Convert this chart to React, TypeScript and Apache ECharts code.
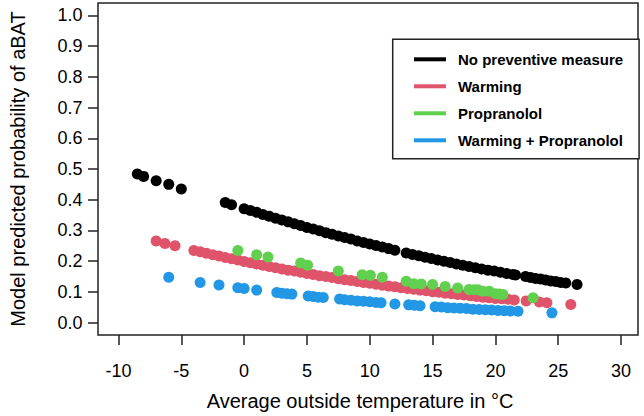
import React, { useEffect, useRef } from "react";
import * as echarts from "echarts";

const FONT = "'Liberation Sans', Arial, Helvetica, sans-serif";

// Axis ticks and visible axis ranges
const xTicks = [-10, -5, 0, 5, 10, 15, 20, 25, 30];
const yTicks = [0, 0.1, 0.2, 0.3, 0.4, 0.5, 0.6, 0.7, 0.8, 0.9, 1.0];
const xRange = [-11.63, 31.35];
const yRange = [-0.04, 1.04];

// Series names
const seriesNames = [
  "No preventive measure",
  "Warming",
  "Propranolol",
  "Warming + Propranolol",
];
const seriesColors = ["#000000", "#DF536B", "#61D04F", "#2297E6"];

// [temperature, predicted probability]
const noPreventive: [number, number][] = [
  [-8.5, 0.484], [-8.0, 0.476], [-7.0, 0.462], [-6.0, 0.45], [-5.0, 0.435],
  [-1.5, 0.391], [-1.0, 0.384],
  [0, 0.371], [0.5, 0.365], [1, 0.359], [1.5, 0.352], [2, 0.346], [2.5, 0.34],
  [3, 0.334], [3.5, 0.328], [4, 0.322], [4.5, 0.316], [5, 0.31], [5.5, 0.305],
  [6, 0.299], [6.5, 0.293], [7, 0.288], [7.5, 0.282], [8, 0.277], [8.5, 0.272],
  [9, 0.266], [9.5, 0.261], [10, 0.256], [10.5, 0.251], [11, 0.246], [11.5, 0.241],
  [12, 0.236],
  [12.9, 0.227], [13.4, 0.222], [13.9, 0.218], [14.4, 0.213], [14.9, 0.209],
  [15.4, 0.204], [15.9, 0.2], [16.4, 0.196], [16.9, 0.191], [17.4, 0.187],
  [17.9, 0.183], [18.4, 0.179], [18.9, 0.175], [19.4, 0.171], [19.9, 0.168],
  [20.4, 0.164], [20.9, 0.16], [21.4, 0.157], [21.6, 0.155],
  [22.4, 0.15], [22.8, 0.147], [23.2, 0.144], [23.6, 0.142], [24.0, 0.139],
  [24.4, 0.136], [24.8, 0.134], [25.2, 0.131], [25.6, 0.129],
  [26.5, 0.124],
];

const warming: [number, number][] = [
  [-7.0, 0.266], [-6.3, 0.258], [-5.5, 0.25],
  [-4.0, 0.235], [-3.5, 0.231], [-3.0, 0.226], [-2.5, 0.221], [-2.0, 0.217],
  [-1.5, 0.212], [-1.0, 0.208], [-0.5, 0.204], [0, 0.199], [0.5, 0.195],
  [1, 0.191], [1.5, 0.187], [2, 0.183], [2.5, 0.179], [3, 0.175], [3.5, 0.171],
  [4, 0.168], [4.5, 0.164], [5, 0.16], [5.5, 0.157], [6, 0.153], [6.5, 0.15],
  [7, 0.147], [7.5, 0.143], [8, 0.14], [8.5, 0.137], [9, 0.134], [9.5, 0.131],
  [10, 0.128], [10.5, 0.125], [11, 0.122], [11.5, 0.119], [12, 0.117],
  [12.5, 0.114], [13, 0.111], [13.5, 0.109], [14, 0.106], [14.5, 0.104],
  [15, 0.101], [15.5, 0.099], [16, 0.096], [16.5, 0.094], [17, 0.092],
  [17.5, 0.09], [18, 0.088], [18.5, 0.085], [19, 0.083], [19.5, 0.081],
  [20, 0.079], [20.5, 0.078], [21, 0.076], [21.5, 0.074],
  [22.45, 0.071], [23.5, 0.067], [24.1, 0.065], [26.0, 0.059],
];

const propranolol: [number, number][] = [
  [-0.5, 0.235], [1.0, 0.221], [1.9, 0.214], [4.5, 0.194], [5.05, 0.187],
  [7.5, 0.168], [9.4, 0.156], [10.05, 0.154], [11.0, 0.148], [12.9, 0.135],
  [13.5, 0.127], [14.1, 0.126], [15.0, 0.124], [16.0, 0.118], [17.0, 0.113],
  [17.9, 0.108], [18.3, 0.107], [18.6, 0.107], [19.0, 0.102], [19.5, 0.102],
  [20.0, 0.094], [20.3, 0.093], [20.6, 0.092], [23.0, 0.081],
];

const warmingPropranolol: [number, number][] = [
  [-6.0, 0.148], [-3.5, 0.131], [-2.0, 0.123], [-0.5, 0.114], [0.0, 0.111],
  [1.0, 0.106],
  [2.6, 0.098], [3.0, 0.096], [3.4, 0.094], [3.8, 0.093],
  [5.1, 0.087], [5.5, 0.085], [5.9, 0.083], [6.3, 0.082],
  [7.6, 0.077], [8.0, 0.075], [8.5, 0.073], [9.0, 0.071], [9.5, 0.07],
  [10.0, 0.068], [10.5, 0.066], [10.9, 0.065],
  [12.0, 0.061],
  [13.1, 0.058], [13.55, 0.057], [14.0, 0.055],
  [15.2, 0.052], [15.7, 0.051], [16.2, 0.049], [16.7, 0.048], [17.2, 0.047],
  [17.7, 0.046], [18.2, 0.044], [18.7, 0.043], [19.2, 0.042], [19.7, 0.041],
  [20.2, 0.04], [20.7, 0.039], [21.2, 0.038], [21.8, 0.037],
  [24.5, 0.032],
];

const seriesData = [noPreventive, warming, propranolol, warmingPropranolol];

export default function App() {
  const ref = useRef<HTMLDivElement>(null);

  useEffect(() => {
    document.body.style.margin = "0";
    if (!ref.current) return;
    const chart = echarts.init(ref.current, null, { renderer: "svg" });

    const axisColor = "#222";

    chart.setOption({
      animation: false,
      backgroundColor: "#ffffff",
      textStyle: { fontFamily: FONT },
      grid: {
        left: 85,
        right: 6,
        top: 3,
        bottom: 79.3,
        show: true,
        borderColor: axisColor,
        borderWidth: 1.5,
        backgroundColor: "transparent",
      },
      xAxis: {
        type: "value",
        min: xRange[0],
        max: xRange[1],
        axisLine: { show: false, onZero: false },
        axisTick: {
          show: true,
          length: 10,
          customValues: xTicks,
          lineStyle: { color: axisColor, width: 1.5 },
        },
        axisLabel: {
          fontSize: 18,
          color: "#000",
          margin: 27,
          fontFamily: FONT,
          customValues: xTicks,
        },
        splitLine: { show: false },
        name: "Average outside temperature in °C",
        nameLocation: "middle",
        nameGap: 56,
        nameTextStyle: {
          fontSize: 20,
          color: "#000",
          fontFamily: FONT,
          padding: [0, 16, 0, 0],
        },
      },
      yAxis: {
        type: "value",
        min: yRange[0],
        max: yRange[1],
        axisLine: { show: false, onZero: false },
        axisTick: {
          show: true,
          length: 10,
          customValues: yTicks,
          lineStyle: { color: axisColor, width: 1.5 },
        },
        axisLabel: {
          fontSize: 18,
          color: "#000",
          margin: 15.5,
          fontFamily: FONT,
          customValues: yTicks,
          formatter: (v: number) => v.toFixed(1),
        },
        splitLine: { show: false },
        name: "Model predicted probability of aBAT",
        nameLocation: "middle",
        nameGap: 70,
        nameTextStyle: { fontSize: 20, color: "#000", fontFamily: FONT },
      },
      legend: {
        show: true,
        orient: "vertical",
        left: 392.7,
        top: 39.3,
        padding: [12.5, 16, 11, 21.3],
        itemWidth: 32,
        itemHeight: 4,
        itemGap: 12,
        borderColor: axisColor,
        borderWidth: 1.5,
        backgroundColor: "#fff",
        selectedMode: false,
        textStyle: {
          fontSize: 15,
          fontWeight: "bold",
          color: "#000",
          fontFamily: FONT,
          padding: [0, 0, 0, 7],
        },
        data: seriesNames.map((n) => ({ name: n, icon: "rect" })),
      },
      series: seriesNames.map((name, i) => ({
        name,
        type: "scatter",
        symbol: "circle",
        symbolSize: 11,
        data: seriesData[i],
        itemStyle: { color: seriesColors[i], opacity: 1 },
        emphasis: { disabled: true },
        z: 2 + i,
      })),
    });

    return () => {
      chart.dispose();
    };
  }, []);

  return <div ref={ref} style={{ width: 644, height: 416 }} />;
}
